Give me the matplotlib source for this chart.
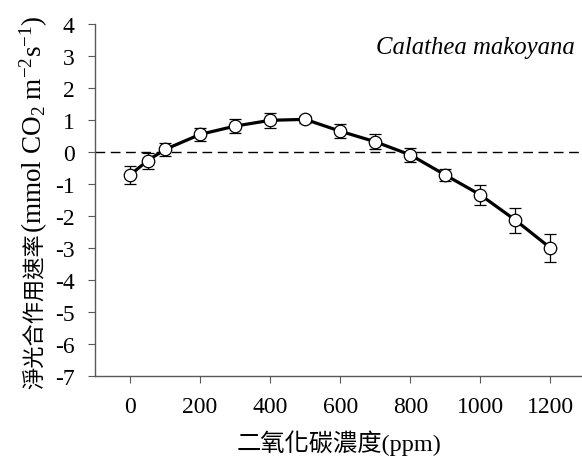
import matplotlib.pyplot as plt
import numpy as np

plt.rcParams['font.family'] = ['Liberation Serif', 'Noto Sans CJK TC']
plt.rcParams['mathtext.fontset'] = 'custom'
plt.rcParams['mathtext.rm'] = 'Liberation Serif'
plt.rcParams['mathtext.it'] = 'Liberation Serif:italic'
plt.rcParams['axes.unicode_minus'] = False

# CO2 concentration (ppm) and net photosynthesis rate
co2 = [0, 50, 100, 200, 300, 400, 500, 600, 700, 800, 900, 1000, 1100, 1200]
rate = [-0.72, -0.27, 0.08, 0.55, 0.81, 0.99, 1.02, 0.65, 0.32, -0.09, -0.72, -1.34, -2.13, -3.0]
err = [0.27, 0.25, 0.2, 0.2, 0.22, 0.23, 0.12, 0.22, 0.23, 0.22, 0.2, 0.31, 0.39, 0.43]

yticks = list(range(-7, 5))
xticks = [0, 200, 400, 600, 800, 1000, 1200]

W, H = 582, 460
fig = plt.figure(figsize=(W / 100, H / 100), dpi=100)
ax = fig.add_axes([95 / W, 83 / H, 1 - 95 / W, 352 / H])

ax.axhline(0, color='black', linestyle=(0, (7, 4)), linewidth=1.0, zorder=1)
ax.errorbar(co2, rate, yerr=err, color='black', linewidth=2.3, marker='o',
            markersize=9, markerfacecolor='white', markeredgecolor='black',
            markeredgewidth=0.9, ecolor='black', elinewidth=0.9, capsize=4,
            capthick=0.9, zorder=3)

ax.set_xlim(-100, 1290)
ax.set_ylim(-7, 4)
ax.set_xticks(xticks)
ax.set_yticks(yticks)
ax.tick_params(direction='out', length=5, width=0.8, color='0.35', labelsize=17)
ax.tick_params(axis='x', pad=9.5)
ax.tick_params(axis='y', pad=9.5)
for s in ['top', 'right']:
    ax.spines[s].set_visible(False)
for s in ['left', 'bottom']:
    ax.spines[s].set_color('0.35')
    ax.spines[s].set_linewidth(1.0)

ax.text(0.986, 0.935, 'Calathea makoyana', transform=ax.transAxes, ha='right',
        va='center', fontsize=17.8, style='italic')

fig.text(339 / W, 1 - 443 / H, '二氧化碳濃度(ppm)', fontsize=17.5, ha='center', va='center')

# y label: CJK part and math part drawn separately, sharing one baseline
bx, by = 42 / W, 1 - 233 / H
fig.text(bx, by, '淨光合作用速率', fontsize=16, rotation=90,
         rotation_mode='anchor', ha='right', va='baseline')
fig.text(bx, by, '(mmol CO$_2$ m$^{-2}$s$^{-1}$)', fontsize=19.5, rotation=90,
         rotation_mode='anchor', ha='left', va='baseline')

fig.savefig('out.png', dpi=100)
